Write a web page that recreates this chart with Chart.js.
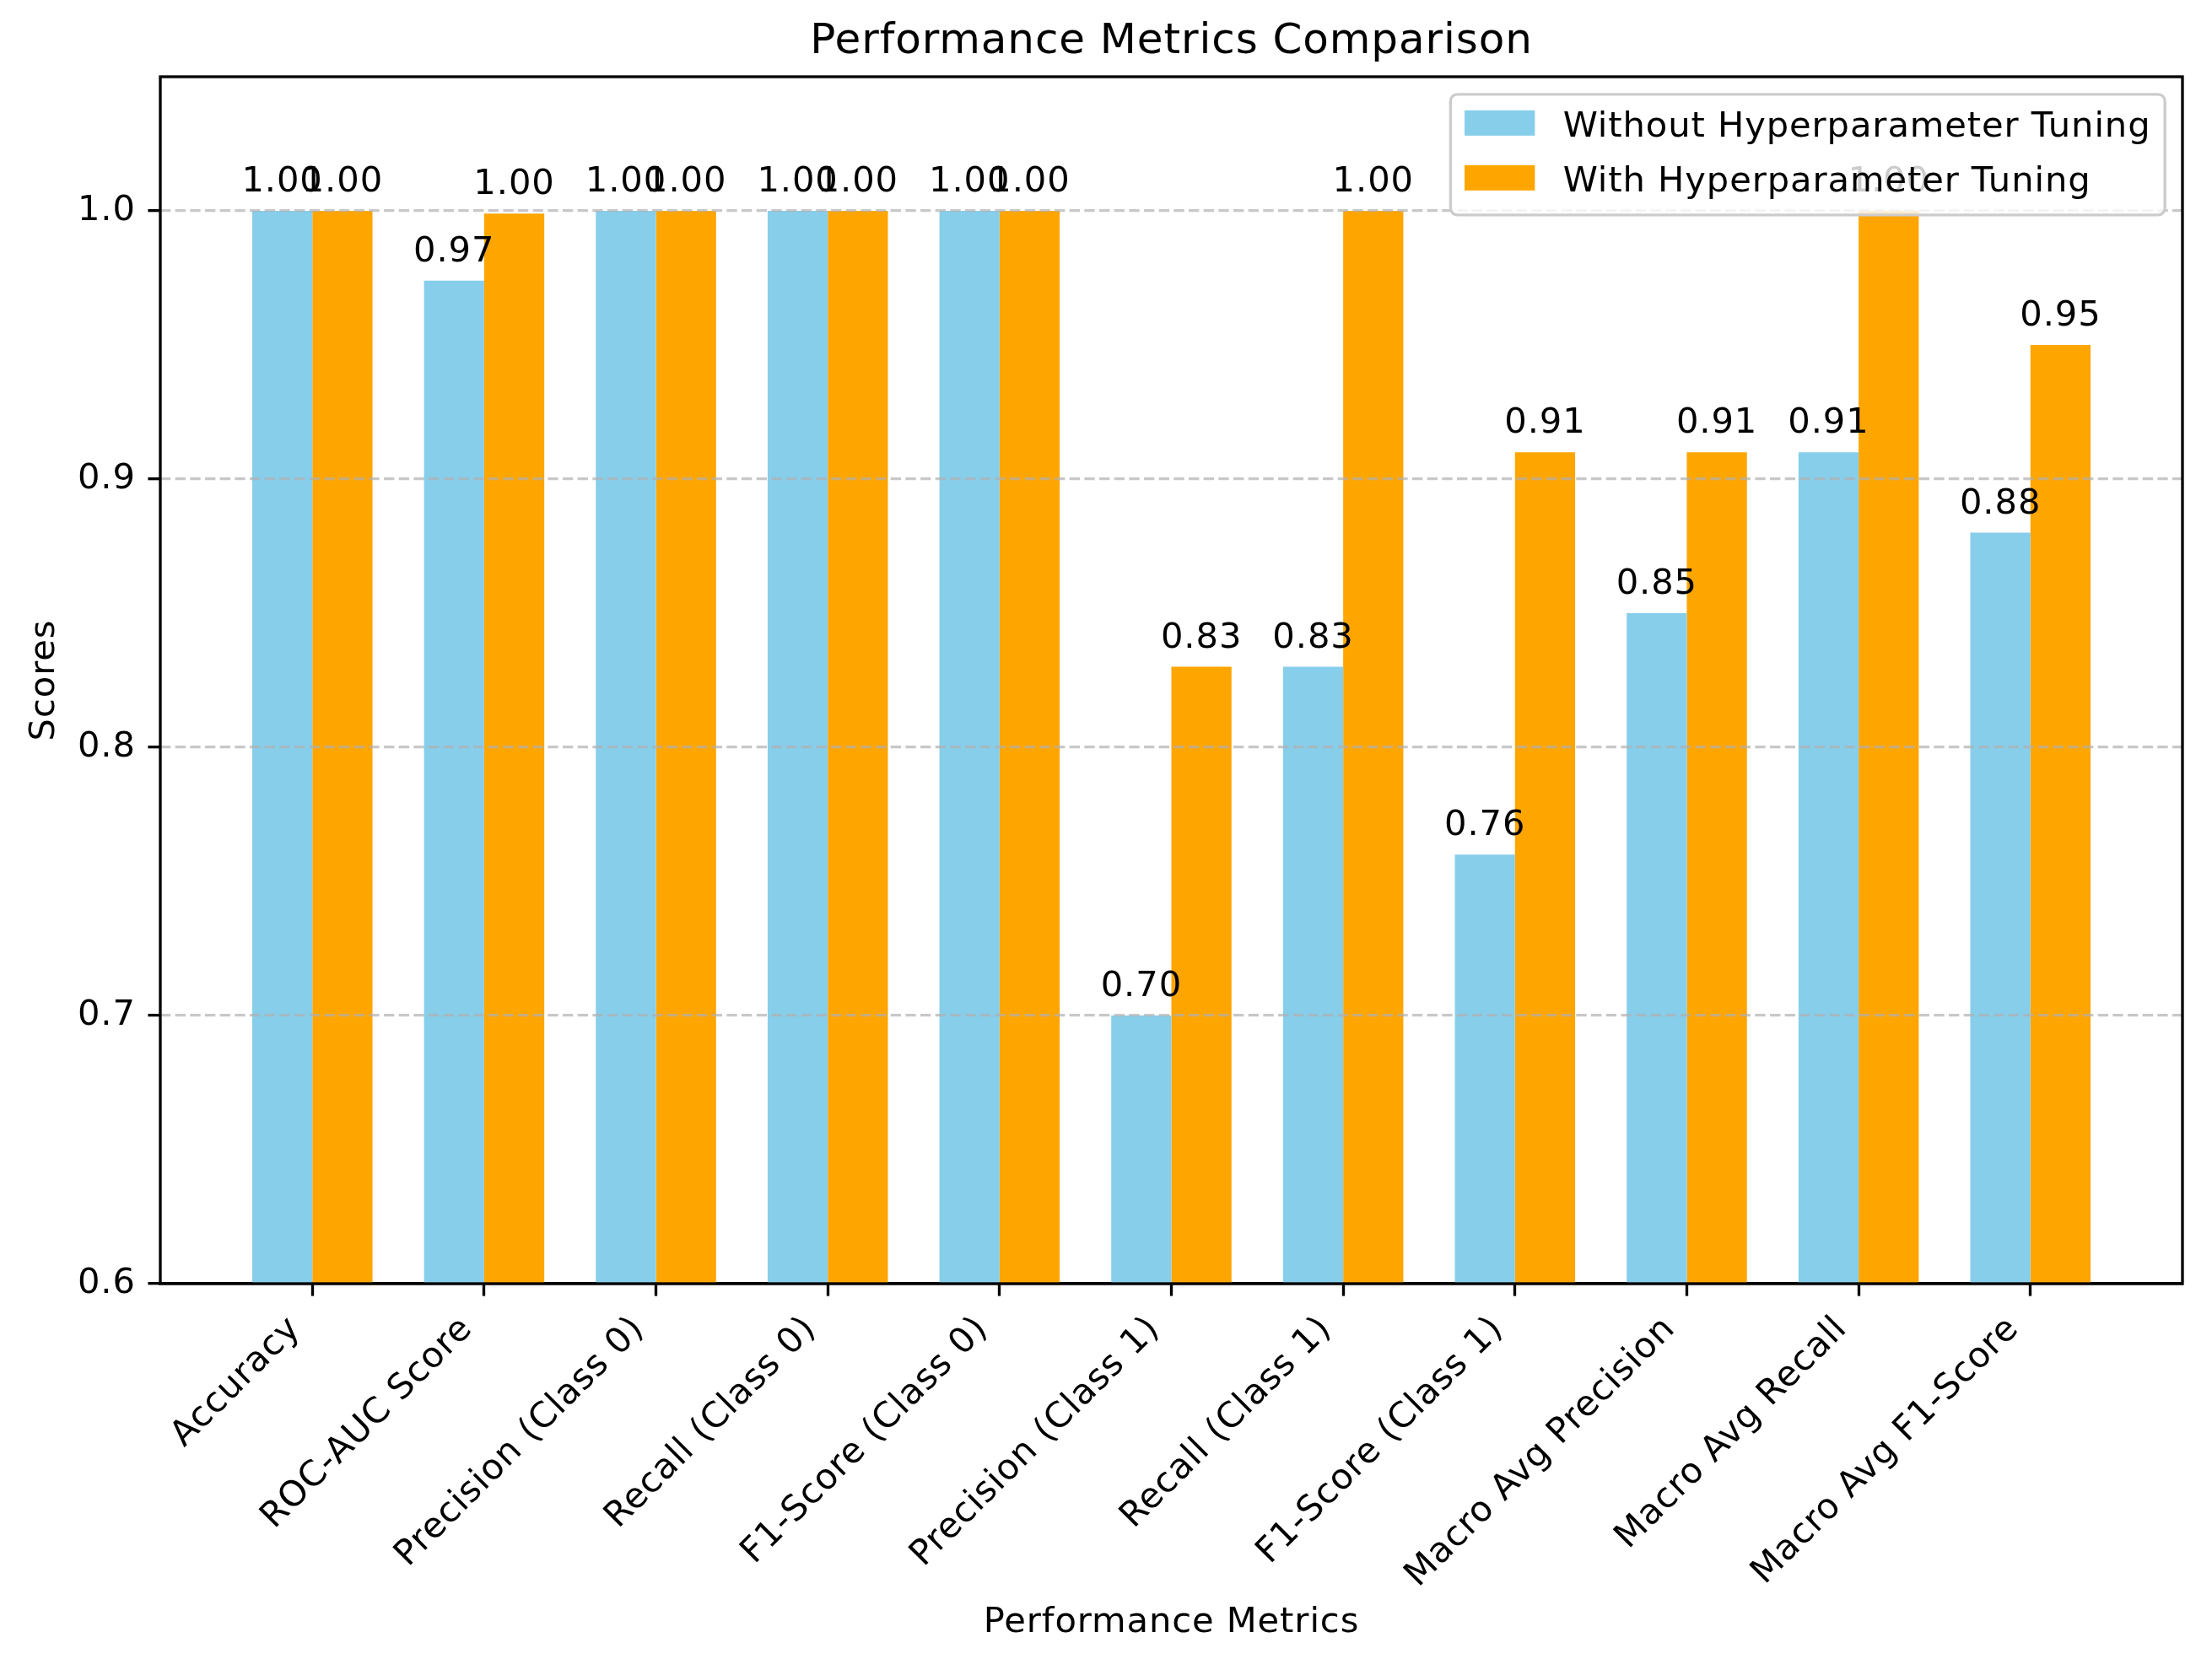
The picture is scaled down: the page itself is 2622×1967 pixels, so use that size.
<!DOCTYPE html>
<html>
<head>
<meta charset="utf-8">
<script src="https://cdn.jsdelivr.net/npm/chart.js@4.4.1/dist/chart.umd.min.js"></script>
<style>
  html, body { margin: 0; padding: 0; background: #fff; }
  canvas { display: block; }
</style>
</head>
<body>
<canvas id="chart" width="2622" height="1967"></canvas>
<script>
// Data
const categories = [
    "Accuracy", "ROC-AUC Score", "Precision (Class 0)", "Recall (Class 0)",
    "F1-Score (Class 0)", "Precision (Class 1)", "Recall (Class 1)",
    "F1-Score (Class 1)", "Macro Avg Precision", "Macro Avg Recall", "Macro Avg F1-Score"
];
const withoutTuning = [1.00, 0.974, 1.00, 1.00, 1.00, 0.70, 0.83, 0.76, 0.85, 0.91, 0.88];
const withTuning = [1.00, 0.999, 1.00, 1.00, 1.00, 0.83, 1.00, 0.91, 0.91, 1.00, 0.95];
const seriesNames = ["Without Hyperparameter Tuning", "With Hyperparameter Tuning"];
const yTicks = [0.6, 0.7, 0.8, 0.9, 1.0];

const FONT = "'DejaVu Sans', sans-serif";
const PT = 300 / 72; // matplotlib points -> px at 300 dpi
const fs = 10 * PT;

Chart.defaults.color = "#000";
Chart.defaults.font.family = FONT;

// matplotlib's text comes out a touch wider than the browser's
const spacing = {
    id: "spacing",
    beforeDraw(chart) { chart.ctx.letterSpacing = "0.9px"; }
};

// spines, value labels and legend drawn on top like matplotlib
const overlay = {
    id: "overlay",
    afterDraw(chart) {
        const ctx = chart.ctx;
        const a = chart.chartArea;

        // box around the axes
        ctx.save();
        ctx.strokeStyle = "#000";
        ctx.lineWidth = 0.8 * PT;
        ctx.strokeRect(a.left, a.top, a.right - a.left, a.bottom - a.top);
        ctx.restore();

        // value labels above bars
        ctx.save();
        ctx.font = fs + "px " + FONT;
        ctx.fillStyle = "#000";
        ctx.textAlign = "center";
        ctx.textBaseline = "alphabetic";
        chart.data.datasets.forEach((ds, i) => {
            chart.getDatasetMeta(i).data.forEach((bar, j) => {
                ctx.fillText(ds.data[j].y.toFixed(2), bar.x, bar.y - 23);
            });
        });
        ctx.restore();

        // legend, upper right inside the axes
        ctx.save();
        ctx.font = fs + "px " + FONT;
        const pad = 0.4 * fs, handle = 2 * fs, gap = 0.8 * fs;
        let textW = 0;
        chart.data.datasets.forEach(ds => { textW = Math.max(textW, ctx.measureText(ds.label).width); });
        const w = pad + handle + gap + textW + pad;
        const h = 143;
        const right = a.right - 0.5 * fs;
        const top = a.top + 0.5 * fs;
        const left = right - w;
        ctx.beginPath();
        ctx.roundRect(left, top, w, h, 8);
        ctx.fillStyle = "rgba(255,255,255,0.8)";
        ctx.fill();
        ctx.strokeStyle = "#cccccc";
        ctx.lineWidth = 0.8 * PT;
        ctx.stroke();
        ctx.textBaseline = "alphabetic";
        ctx.textAlign = "left";
        chart.data.datasets.forEach((ds, i) => {
            const rowY = top + 19 + i * 65;
            ctx.fillStyle = ds.backgroundColor;
            ctx.fillRect(left + pad, rowY, handle, 30);
            ctx.fillStyle = "#000";
            ctx.fillText(ds.label, left + pad + handle + gap, rowY + 31);
        });
        ctx.restore();
    }
};

const ctx = document.getElementById("chart").getContext("2d");

new Chart(ctx, {
    type: "bar",
    data: {
        datasets: [{
            label: seriesNames[0],
            data: categories.map((c, i) => ({ x: i, y: withoutTuning[i] })),
            backgroundColor: "#87CEEB",
            borderWidth: 0
        }, {
            label: seriesNames[1],
            data: categories.map((c, i) => ({ x: i, y: withTuning[i] })),
            backgroundColor: "#FFA500",
            borderWidth: 0
        }]
    },
    options: {
        responsive: false,
        animation: false,
        devicePixelRatio: 1,
        categoryPercentage: 0.7,
        barPercentage: 1.0,
        layout: { padding: { left: 0, right: 35, top: 0, bottom: 0 } },
        plugins: {
            legend: { display: false },
            tooltip: { enabled: false },
            title: {
                display: true,
                fullSize: false,
                text: "Performance Metrics Comparison",
                color: "#000",
                font: { size: 12 * PT, weight: "normal", family: FONT },
                padding: { top: 19.7, bottom: 11.3 }
            }
        },
        scales: {
            x: {
                type: "linear",
                min: -0.885,
                max: 10.885,
                offset: false,
                afterBuildTicks: s => { s.ticks = categories.map((c, i) => ({ value: i })); },
                afterFit: s => { s.height = 445; },
                ticks: {
                    autoSkip: false,
                    minRotation: 45,
                    maxRotation: 45,
                    padding: 15,
                    labelOffset: -20,
                    font: { size: fs },
                    callback: v => categories[v]
                },
                grid: {
                    offset: false,
                    drawOnChartArea: false,
                    drawTicks: true,
                    tickLength: 3.5 * PT,
                    tickWidth: 0.8 * PT,
                    tickColor: "#000"
                },
                border: { display: true, color: "#000", width: 0.8 * PT },
                title: {
                    display: true,
                    text: "Performance Metrics",
                    font: { size: fs },
                    padding: { top: 0, bottom: 17.4 }
                }
            },
            y: {
                min: 0.6,
                max: 1.05,
                afterBuildTicks: s => { s.ticks = yTicks.map(v => ({ value: v })); },
                afterFit: s => { s.width = 190; },
                ticks: {
                    padding: 3.5 * PT,
                    font: { size: fs },
                    callback: v => v.toFixed(1)
                },
                grid: {
                    z: 1,
                    color: c => (c.tick && Math.abs(c.tick.value - 0.6) < 1e-6) ? "rgba(0,0,0,0)" : "rgba(176,176,176,0.7)",
                    lineWidth: 0.8 * PT,
                    drawTicks: true,
                    tickLength: 3.5 * PT,
                    tickWidth: 0.8 * PT,
                    tickColor: "#000",
                    tickBorderDash: []
                },
                // the frame plugin draws the spine; dash here styles the grid lines
                border: { display: false, dash: [3.7 * 0.8 * PT, 1.6 * 0.8 * PT] },
                title: {
                    display: true,
                    text: "Scores",
                    font: { size: fs },
                    padding: { top: 28.5, bottom: 0 }
                }
            }
        }
    },
    plugins: [spacing, overlay]
});
</script>
</body>
</html>
